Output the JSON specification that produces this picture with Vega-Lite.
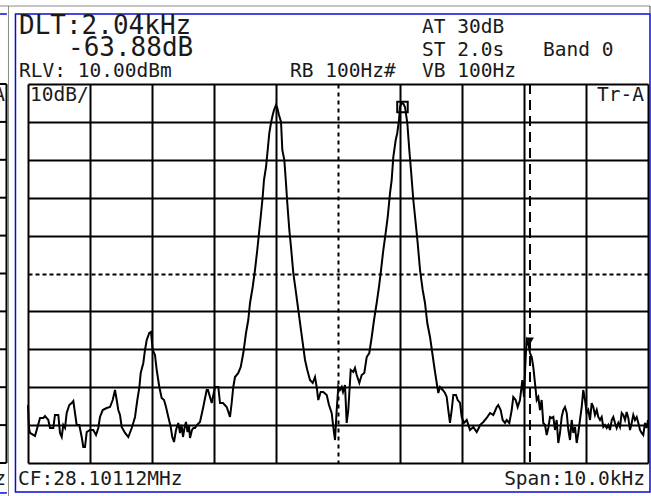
{
  "$schema": "https://vega.github.io/schema/vega-lite/v6.json",
  "width": 620,
  "height": 379,
  "autosize": {"type": "none"},
  "padding": {"left": 28, "top": 84, "right": 3, "bottom": 33},
  "background": "white",
  "config": {"view": {"stroke": null}},
  "datasets": {
    "trace": [
      {"khz":-5.000,"dbm":-74.70},{"khz":-4.984,"dbm":-80.76},{"khz":-4.968,"dbm":-82.08},{"khz":-4.887,"dbm":-82.87},
      {"khz":-4.860,"dbm":-81.29},{"khz":-4.806,"dbm":-78.12},{"khz":-4.753,"dbm":-78.12},{"khz":-4.726,"dbm":-77.60},
      {"khz":-4.673,"dbm":-78.65},{"khz":-4.645,"dbm":-80.76},{"khz":-4.592,"dbm":-80.76},{"khz":-4.565,"dbm":-77.33},
      {"khz":-4.511,"dbm":-77.33},{"khz":-4.484,"dbm":-82.08},{"khz":-4.456,"dbm":-83.14},{"khz":-4.431,"dbm":-79.97},
      {"khz":-4.403,"dbm":-80.76},{"khz":-4.376,"dbm":-76.81},{"khz":-4.334,"dbm":-74.70},{"khz":-4.295,"dbm":-74.17},
      {"khz":-4.269,"dbm":-73.64},{"khz":-4.242,"dbm":-76.81},{"khz":-4.215,"dbm":-79.97},{"khz":-4.173,"dbm":-79.97},
      {"khz":-4.134,"dbm":-83.14},{"khz":-4.108,"dbm":-85.78},{"khz":-4.081,"dbm":-85.78},{"khz":-4.053,"dbm":-81.82},
      {"khz":-4.000,"dbm":-81.29},{"khz":-3.947,"dbm":-81.29},{"khz":-3.903,"dbm":-82.61},{"khz":-3.866,"dbm":-80.76},
      {"khz":-3.839,"dbm":-77.86},{"khz":-3.795,"dbm":-76.02},{"khz":-3.731,"dbm":-75.49},{"khz":-3.677,"dbm":-75.22},
      {"khz":-3.634,"dbm":-73.38},{"khz":-3.597,"dbm":-70.74},{"khz":-3.569,"dbm":-73.38},{"khz":-3.544,"dbm":-76.02},
      {"khz":-3.516,"dbm":-77.33},{"khz":-3.489,"dbm":-80.50},{"khz":-3.435,"dbm":-82.08},{"khz":-3.382,"dbm":-83.14},
      {"khz":-3.327,"dbm":-80.76},{"khz":-3.302,"dbm":-79.44},{"khz":-3.274,"dbm":-77.86},{"khz":-3.237,"dbm":-73.38},
      {"khz":-3.205,"dbm":-70.21},{"khz":-3.182,"dbm":-66.25},{"khz":-3.140,"dbm":-63.61},{"khz":-3.113,"dbm":-60.18},
      {"khz":-3.085,"dbm":-57.55},{"khz":-3.044,"dbm":-55.70},{"khz":-3.016,"dbm":-55.43},{"khz":-2.989,"dbm":-60.18},
      {"khz":-2.952,"dbm":-61.50},{"khz":-2.924,"dbm":-65.46},{"khz":-2.882,"dbm":-69.94},{"khz":-2.844,"dbm":-72.85},
      {"khz":-2.806,"dbm":-73.38},{"khz":-2.774,"dbm":-75.22},{"khz":-2.737,"dbm":-77.86},{"khz":-2.698,"dbm":-80.50},
      {"khz":-2.673,"dbm":-83.14},{"khz":-2.645,"dbm":-84.46},{"khz":-2.613,"dbm":-81.29},{"khz":-2.576,"dbm":-79.44},
      {"khz":-2.548,"dbm":-82.08},{"khz":-2.524,"dbm":-79.97},{"khz":-2.500,"dbm":-83.14},{"khz":-2.476,"dbm":-80.76},
      {"khz":-2.452,"dbm":-79.18},{"khz":-2.427,"dbm":-81.82},{"khz":-2.403,"dbm":-80.23},{"khz":-2.387,"dbm":-83.40},
      {"khz":-2.355,"dbm":-81.29},{"khz":-2.331,"dbm":-80.76},{"khz":-2.306,"dbm":-80.76},{"khz":-2.274,"dbm":-79.97},
      {"khz":-2.226,"dbm":-79.18},{"khz":-2.173,"dbm":-75.22},{"khz":-2.118,"dbm":-70.74},{"khz":-2.097,"dbm":-70.74},
      {"khz":-2.037,"dbm":-74.17},{"khz":-1.984,"dbm":-69.94},{"khz":-1.931,"dbm":-69.94},{"khz":-1.903,"dbm":-74.17},
      {"khz":-1.855,"dbm":-74.17},{"khz":-1.795,"dbm":-75.22},{"khz":-1.742,"dbm":-77.86},{"khz":-1.715,"dbm":-74.17},
      {"khz":-1.689,"dbm":-69.94},{"khz":-1.661,"dbm":-67.31},{"khz":-1.608,"dbm":-66.25},{"khz":-1.569,"dbm":-64.67},
      {"khz":-1.527,"dbm":-60.98},{"khz":-1.484,"dbm":-55.70},{"khz":-1.447,"dbm":-52.27},{"khz":-1.419,"dbm":-47.78},
      {"khz":-1.376,"dbm":-43.56},{"khz":-1.339,"dbm":-39.08},{"khz":-1.302,"dbm":-33.80},{"khz":-1.269,"dbm":-28.52},
      {"khz":-1.247,"dbm":-25.09},{"khz":-1.215,"dbm":-19.81},{"khz":-1.194,"dbm":-15.33},{"khz":-1.161,"dbm":-11.90},
      {"khz":-1.134,"dbm":-7.41},{"khz":-1.108,"dbm":-2.93},{"khz":-1.081,"dbm":-0.29},{"khz":-1.053,"dbm":1.82},
      {"khz":-1.032,"dbm":3.14},{"khz":-1.000,"dbm":4.46},{"khz":-0.979,"dbm":3.67},{"khz":-0.952,"dbm":1.82},
      {"khz":-0.919,"dbm":-0.03},{"khz":-0.898,"dbm":-7.41},{"khz":-0.866,"dbm":-10.05},{"khz":-0.839,"dbm":-16.12},
      {"khz":-0.818,"dbm":-21.40},{"khz":-0.785,"dbm":-28.52},{"khz":-0.758,"dbm":-33.01},{"khz":-0.721,"dbm":-39.87},
      {"khz":-0.677,"dbm":-45.14},{"khz":-0.640,"dbm":-49.63},{"khz":-0.597,"dbm":-54.91},{"khz":-0.560,"dbm":-59.39},
      {"khz":-0.532,"dbm":-62.82},{"khz":-0.495,"dbm":-65.46},{"khz":-0.452,"dbm":-68.10},{"khz":-0.408,"dbm":-68.89},
      {"khz":-0.371,"dbm":-67.31},{"khz":-0.344,"dbm":-69.94},{"khz":-0.318,"dbm":-73.38},{"khz":-0.279,"dbm":-71.26},
      {"khz":-0.237,"dbm":-71.26},{"khz":-0.182,"dbm":-72.05},{"khz":-0.145,"dbm":-74.70},{"khz":-0.102,"dbm":-76.81},
      {"khz":-0.076,"dbm":-80.50},{"khz":-0.048,"dbm":-83.93},{"khz":-0.021,"dbm":-76.02},{"khz":0.005,"dbm":-69.94},
      {"khz":0.032,"dbm":-70.74},{"khz":0.060,"dbm":-69.94},{"khz":0.081,"dbm":-71.26},{"khz":0.113,"dbm":-69.42},
      {"khz":0.140,"dbm":-79.44},{"khz":0.166,"dbm":-76.02},{"khz":0.205,"dbm":-65.46},{"khz":0.247,"dbm":-65.99},
      {"khz":0.274,"dbm":-64.93},{"khz":0.302,"dbm":-66.78},{"khz":0.344,"dbm":-68.89},{"khz":0.382,"dbm":-66.78},
      {"khz":0.424,"dbm":-66.25},{"khz":0.463,"dbm":-62.03},{"khz":0.505,"dbm":-60.98},{"khz":0.544,"dbm":-56.75},
      {"khz":0.581,"dbm":-52.27},{"khz":0.624,"dbm":-47.78},{"khz":0.661,"dbm":-43.56},{"khz":0.694,"dbm":-39.08},
      {"khz":0.731,"dbm":-33.80},{"khz":0.769,"dbm":-29.31},{"khz":0.802,"dbm":-25.09},{"khz":0.839,"dbm":-18.76},
      {"khz":0.866,"dbm":-15.33},{"khz":0.892,"dbm":-9.26},{"khz":0.931,"dbm":-4.77},{"khz":0.956,"dbm":-2.93},
      {"khz":0.984,"dbm":0.50},{"khz":1.000,"dbm":3.93},{"khz":1.027,"dbm":4.99},{"khz":1.056,"dbm":4.72},
      {"khz":1.081,"dbm":3.93},{"khz":1.118,"dbm":-0.29},{"khz":1.150,"dbm":-7.41},{"khz":1.177,"dbm":-12.69},
      {"khz":1.215,"dbm":-20.61},{"khz":1.253,"dbm":-26.67},{"khz":1.285,"dbm":-31.95},{"khz":1.323,"dbm":-39.08},
      {"khz":1.366,"dbm":-44.35},{"khz":1.403,"dbm":-47.78},{"khz":1.440,"dbm":-53.06},{"khz":1.484,"dbm":-56.75},
      {"khz":1.521,"dbm":-60.98},{"khz":1.553,"dbm":-64.67},{"khz":1.592,"dbm":-68.89},{"khz":1.618,"dbm":-71.53},
      {"khz":1.645,"dbm":-69.94},{"khz":1.689,"dbm":-70.74},{"khz":1.726,"dbm":-71.53},{"khz":1.753,"dbm":-72.58},
      {"khz":1.779,"dbm":-76.02},{"khz":1.806,"dbm":-79.44},{"khz":1.834,"dbm":-76.02},{"khz":1.860,"dbm":-72.05},
      {"khz":1.903,"dbm":-72.05},{"khz":1.931,"dbm":-73.38},{"khz":1.968,"dbm":-74.17},{"khz":1.995,"dbm":-77.86},
      {"khz":2.032,"dbm":-79.44},{"khz":2.076,"dbm":-78.65},{"khz":2.129,"dbm":-81.29},{"khz":2.182,"dbm":-80.50},
      {"khz":2.237,"dbm":-81.82},{"khz":2.279,"dbm":-80.50},{"khz":2.290,"dbm":-79.97},{"khz":2.344,"dbm":-79.18},
      {"khz":2.398,"dbm":-78.12},{"khz":2.452,"dbm":-76.81},{"khz":2.505,"dbm":-77.33},{"khz":2.560,"dbm":-75.22},
      {"khz":2.585,"dbm":-74.70},{"khz":2.624,"dbm":-76.02},{"khz":2.656,"dbm":-78.65},{"khz":2.694,"dbm":-79.44},
      {"khz":2.721,"dbm":-78.65},{"khz":2.763,"dbm":-79.44},{"khz":2.802,"dbm":-76.02},{"khz":2.827,"dbm":-72.58},
      {"khz":2.866,"dbm":-73.38},{"khz":2.898,"dbm":-75.22},{"khz":2.935,"dbm":-73.38},{"khz":2.973,"dbm":-68.10},
      {"khz":3.000,"dbm":-72.58},{"khz":3.027,"dbm":-62.03},{"khz":3.044,"dbm":-57.55},{"khz":3.069,"dbm":-58.34},
      {"khz":3.097,"dbm":-60.98},{"khz":3.124,"dbm":-62.03},{"khz":3.150,"dbm":-64.67},{"khz":3.177,"dbm":-68.89},
      {"khz":3.205,"dbm":-73.38},{"khz":3.231,"dbm":-72.58},{"khz":3.258,"dbm":-76.02},{"khz":3.285,"dbm":-73.38},
      {"khz":3.311,"dbm":-79.44},{"khz":3.339,"dbm":-79.97},{"khz":3.366,"dbm":-82.61},{"khz":3.392,"dbm":-80.76},
      {"khz":3.419,"dbm":-77.86},{"khz":3.447,"dbm":-78.12},{"khz":3.473,"dbm":-77.86},{"khz":3.500,"dbm":-81.29},
      {"khz":3.527,"dbm":-78.65},{"khz":3.553,"dbm":-84.72},{"khz":3.581,"dbm":-82.08},{"khz":3.608,"dbm":-77.86},
      {"khz":3.634,"dbm":-76.02},{"khz":3.661,"dbm":-75.22},{"khz":3.689,"dbm":-76.81},{"khz":3.715,"dbm":-81.29},
      {"khz":3.742,"dbm":-83.93},{"khz":3.769,"dbm":-78.65},{"khz":3.795,"dbm":-82.08},{"khz":3.823,"dbm":-80.50},
      {"khz":3.850,"dbm":-84.72},{"khz":3.876,"dbm":-82.08},{"khz":3.903,"dbm":-78.65},{"khz":3.931,"dbm":-75.22},
      {"khz":3.956,"dbm":-70.74},{"khz":3.984,"dbm":-73.38},{"khz":4.011,"dbm":-76.81},{"khz":4.037,"dbm":-76.02},
      {"khz":4.065,"dbm":-78.65},{"khz":4.092,"dbm":-74.17},{"khz":4.118,"dbm":-75.22},{"khz":4.145,"dbm":-77.33},
      {"khz":4.173,"dbm":-76.02},{"khz":4.198,"dbm":-77.86},{"khz":4.226,"dbm":-78.65},{"khz":4.253,"dbm":-77.86},
      {"khz":4.279,"dbm":-80.50},{"khz":4.306,"dbm":-79.97},{"khz":4.334,"dbm":-80.76},{"khz":4.360,"dbm":-79.97},
      {"khz":4.387,"dbm":-81.29},{"khz":4.415,"dbm":-78.65},{"khz":4.440,"dbm":-77.86},{"khz":4.468,"dbm":-79.44},
      {"khz":4.495,"dbm":-80.76},{"khz":4.521,"dbm":-79.44},{"khz":4.548,"dbm":-80.50},{"khz":4.576,"dbm":-76.81},
      {"khz":4.602,"dbm":-77.33},{"khz":4.629,"dbm":-78.65},{"khz":4.656,"dbm":-76.54},{"khz":4.682,"dbm":-78.12},
      {"khz":4.710,"dbm":-81.29},{"khz":4.737,"dbm":-79.44},{"khz":4.763,"dbm":-77.33},{"khz":4.790,"dbm":-78.65},
      {"khz":4.818,"dbm":-77.86},{"khz":4.844,"dbm":-79.44},{"khz":4.871,"dbm":-81.29},{"khz":4.898,"dbm":-82.08},
      {"khz":4.924,"dbm":-82.61},{"khz":4.952,"dbm":-79.44},{"khz":4.979,"dbm":-80.76},{"khz":5.000,"dbm":-78.65}
    ],
    "levels": [
      {"level":-90},{"level":-80},{"level":-70},{"level":-60},{"level":-50},{"level":-40},
      {"level":-30},{"level":-20},{"level":-10},{"level":0},{"level":10}
    ]
  },
  "layer": [
    {
      "data": {"values": [{}]},
      "mark": {"type": "rect", "filled": false, "stroke": "#0a0ad8", "strokeWidth": 1.5},
      "encoding": {
        "x": {"datum": -5.202, "type": "quantitative"},
        "x2": {"datum": 5.032},
        "y": {"datum": 28.47, "type": "quantitative"},
        "y2": {"datum": -97.65}
      }
    },
    {
      "data": {"values": [{}]},
      "mark": {"type": "rule", "stroke": "#8a8a8a", "strokeWidth": 1},
      "encoding": {
        "x": {"datum": -5.46, "type": "quantitative"},
        "x2": {"datum": 5.032},
        "y": {"datum": 30.58, "type": "quantitative"}
      }
    },
    {
      "data": {"values": [{}]},
      "mark": {"type": "rule", "stroke": "#8a8a8a", "strokeWidth": 1},
      "encoding": {
        "x": {"datum": -5.315, "type": "quantitative"},
        "y": {"datum": 30.58, "type": "quantitative"},
        "y2": {"datum": -99}
      }
    },
    {
      "data": {"values": [{}]},
      "mark": {"type": "rule", "stroke": "#444", "strokeWidth": 1},
      "encoding": {
        "x": {"datum": 5.032, "type": "quantitative"},
        "y": {"datum": 30.58, "type": "quantitative"},
        "y2": {"datum": 28.47}
      }
    },
    {
      "data": {"values": [{}]},
      "mark": {"type": "rule", "stroke": "#0a0ad8", "strokeWidth": 1.5},
      "encoding": {
        "x": {"datum": -5.46, "type": "quantitative"},
        "x2": {"datum": -5.34},
        "y": {"datum": 28.47, "type": "quantitative"}
      }
    },
    {
      "data": {"values": [{}]},
      "mark": {"type": "rule", "stroke": "#0a0ad8", "strokeWidth": 1.5},
      "encoding": {
        "x": {"datum": -5.46, "type": "quantitative"},
        "x2": {"datum": -5.34},
        "y": {"datum": -97.9, "type": "quantitative"}
      }
    },
    {
      "data": {"values": [{}]},
      "mark": {"type": "rule", "stroke": "black", "strokeWidth": 2},
      "encoding": {
        "x": {"datum": -5.347, "type": "quantitative"},
        "y": {"datum": 10, "type": "quantitative"},
        "y2": {"datum": -90}
      }
    },
    {
      "data": {"name": "levels"},
      "mark": {"type": "rule", "stroke": "black", "strokeWidth": 2},
      "encoding": {
        "x": {"datum": -5.46, "type": "quantitative"},
        "x2": {"datum": -5.347},
        "y": {"field": "level", "type": "quantitative"}
      }
    },
    {
      "data": {"name": "trace"},
      "mark": {"type": "line", "color": "black", "strokeWidth": 2, "interpolate": "linear"},
      "encoding": {
        "x": {
          "field": "khz", "type": "quantitative",
          "scale": {"domain": [-5, 5], "nice": false, "zero": false},
          "axis": {
            "values": [-5, -4, -3, -2, -1, 0, 1, 2, 3, 4, 5],
            "tickCount": 30,
            "grid": true, "gridColor": "black", "gridWidth": 2, "gridOpacity": 1,
            "gridDash": {"condition": {"test": "datum.value === 0", "value": [4, 4]}, "value": []},
            "labels": false, "ticks": false, "domain": false, "title": null
          }
        },
        "y": {
          "field": "dbm", "type": "quantitative",
          "scale": {"domain": [-90, 10], "nice": false, "zero": false},
          "axis": {
            "values": [-90, -80, -70, -60, -50, -40, -30, -20, -10, 0, 10],
            "tickCount": 30,
            "grid": true, "gridColor": "black", "gridWidth": 2, "gridOpacity": 1,
            "gridDash": {"condition": {"test": "datum.value === -40", "value": [4, 3]}, "value": []},
            "labels": false, "ticks": false, "domain": false, "title": null
          }
        }
      }
    },
    {
      "data": {"values": [{"marker": "delta", "khz": 3.097, "dbm": -57.8}]},
      "mark": {"type": "rule", "stroke": "black", "strokeWidth": 2, "strokeDash": [10, 6]},
      "encoding": {
        "x": {"field": "khz", "type": "quantitative"}
      }
    },
    {
      "data": {"values": [{"marker": "delta", "khz": 3.097, "dbm": -57.8}]},
      "mark": {"type": "point", "shape": "triangle-down", "filled": true, "color": "black", "size": 60, "opacity": 1},
      "encoding": {
        "x": {"field": "khz", "type": "quantitative"},
        "y": {"field": "dbm", "type": "quantitative"}
      }
    },
    {
      "data": {"values": [{"marker": "reference", "khz": 1.04, "dbm": 3.93}]},
      "mark": {"type": "point", "shape": "square", "filled": false, "stroke": "black", "strokeWidth": 2, "size": 110, "opacity": 1},
      "encoding": {
        "x": {"field": "khz", "type": "quantitative"},
        "y": {"field": "dbm", "type": "quantitative"}
      }
    },
    {
      "data": {"values": [
        {"label": "DLT:2.04kHz", "khz": -5.145, "dbm": 23.19},
        {"label": "-63.88dB", "khz": -4.355, "dbm": 17.39}
      ]},
      "mark": {"type": "text", "align": "left", "baseline": "alphabetic", "font": "DejaVu Sans Mono", "fontSize": 26, "color": "#1a1a1a"},
      "encoding": {
        "x": {"field": "khz", "type": "quantitative"},
        "y": {"field": "dbm", "type": "quantitative"},
        "text": {"field": "label"}
      }
    },
    {
      "data": {"values": [
        {"label": "RLV: 10.00dBm", "khz": -5.145, "dbm": 11.85},
        {"label": "RB 100Hz#", "khz": -0.774, "dbm": 11.85},
        {"label": "VB 100Hz", "khz": 1.355, "dbm": 11.85},
        {"label": "AT 30dB", "khz": 1.355, "dbm": 23.46},
        {"label": "ST 2.0s", "khz": 1.355, "dbm": 17.39},
        {"label": "Band 0", "khz": 3.306, "dbm": 17.39},
        {"label": "10dB/", "khz": -4.968, "dbm": 5.6},
        {"label": "CF:28.10112MHz", "khz": -5.161, "dbm": -95.8}
      ]},
      "mark": {"type": "text", "align": "left", "baseline": "alphabetic", "font": "DejaVu Sans Mono", "fontSize": 19.5, "color": "#1a1a1a"},
      "encoding": {
        "x": {"field": "khz", "type": "quantitative"},
        "y": {"field": "dbm", "type": "quantitative"},
        "text": {"field": "label"}
      }
    },
    {
      "data": {"values": [
        {"label": "Tr-A", "khz": 4.935, "dbm": 5.5},
        {"label": "Span:10.0kHz", "khz": 4.952, "dbm": -95.8},
        {"label": "Tr-A", "khz": -5.371, "dbm": 5.5},
        {"label": "Span:10.0kHz", "khz": -5.355, "dbm": -95.8}
      ]},
      "mark": {"type": "text", "align": "right", "baseline": "alphabetic", "font": "DejaVu Sans Mono", "fontSize": 19.5, "color": "#1a1a1a"},
      "encoding": {
        "x": {"field": "khz", "type": "quantitative"},
        "y": {"field": "dbm", "type": "quantitative"},
        "text": {"field": "label"}
      }
    }
  ]
}
